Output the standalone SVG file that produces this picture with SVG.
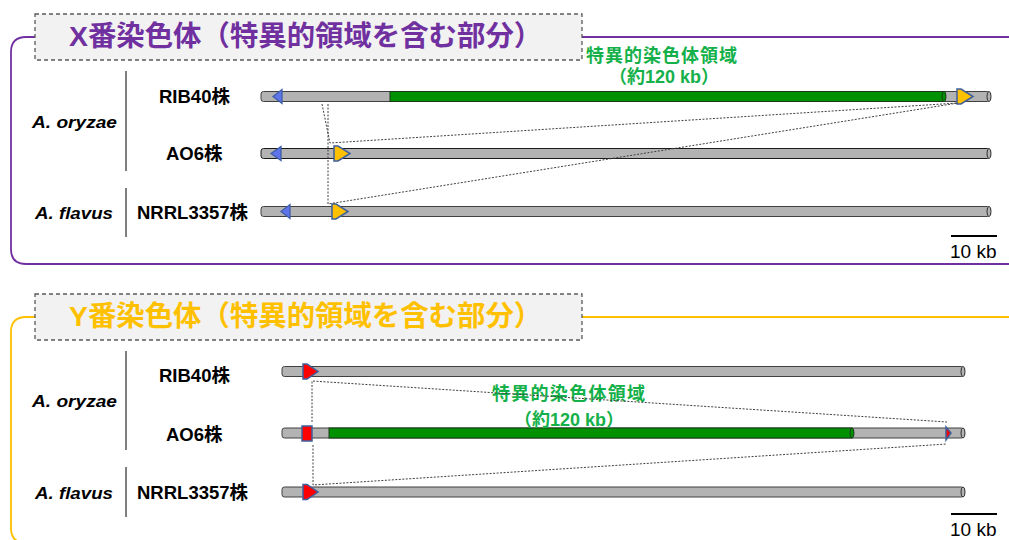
<svg xmlns="http://www.w3.org/2000/svg" width="1009" height="540" viewBox="0 0 1009 540">
<style>
.title{font-family:"Liberation Sans","Noto Sans CJK JP",sans-serif;font-weight:bold;font-size:28.4px}
.tbox{fill:#f2f2f2;stroke:#595959;stroke-width:1.3;stroke-dasharray:4 3}
.lbl{font-family:"Liberation Sans","Noto Sans CJK JP",sans-serif;font-weight:bold;font-size:18.5px;fill:#000}
.sp{font-family:"Liberation Sans",sans-serif;font-weight:bold;font-style:italic;font-size:17px;fill:#000}
.grn{font-family:"Liberation Sans","Noto Sans CJK JP",sans-serif;font-weight:bold;font-size:18px;fill:#14b04a}
.sep{stroke:#7f7f7f;stroke-width:2}
.bar{fill:#b3b3b3;stroke:#404040;stroke-width:1}
.cap{fill:#b3b3b3;stroke:#303030;stroke-width:1}
.green{fill:#009100;stroke:#1a3a1a;stroke-width:1}
.gcap{fill:#009100;stroke:#1a3a1a;stroke-width:1}
.blue{fill:#5f74ea;stroke:#3f5fa8;stroke-width:1.3}
.yel{fill:#ffc000;stroke:#3f5f9c;stroke-width:1.5}
.red{fill:#ff0000;stroke:#3f5f9c;stroke-width:1.5}
.dot{fill:none;stroke:#404040;stroke-width:1;stroke-dasharray:2 1.5}
.scale{stroke:#000;stroke-width:2}
.stxt{font-family:"Liberation Sans",sans-serif;font-size:19px;fill:#000}
</style>

<!-- X chromosome panel -->
<g id="frameX" fill="none" stroke="#7030a0" stroke-width="1.8">
  <path d="M35 37 H26 Q11 37 11 52 V249 Q11 264 26 264 H1009"/>
  <path d="M582 37 H1009"/>
</g>
<g id="titleX">
  <rect class="tbox" x="35" y="14" width="547" height="46"/>
  <text class="title" x="69" y="46" fill="#7030a0">X番染色体（特異的領域を含む部分）</text>
</g>
<g id="labelsX">
  <line class="sep" x1="126" y1="71" x2="126" y2="171"/>
  <line class="sep" x1="126" y1="188" x2="126" y2="237"/>
  <text class="sp" x="32" y="128" textLength="85" lengthAdjust="spacingAndGlyphs">A. oryzae</text>
  <text class="sp" x="35" y="219" textLength="78" lengthAdjust="spacingAndGlyphs">A. flavus</text>
</g>

<g id="X_RIB40">
  <text class="lbl" x="159" y="103">RIB40株</text>
  <rect class="bar" x="261" y="91.5" width="729" height="10" rx="2.5"/>
  <ellipse class="cap" cx="989" cy="96.5" rx="2" ry="5"/>
  <rect class="green" x="390" y="91.5" width="554" height="10"/>
  <ellipse class="gcap" cx="944" cy="96.5" rx="2" ry="5"/>
  <polygon class="blue" points="273,96.5 282,89.5 282,103.5"/>
  <polygon class="yel" points="957,89 961,89 973,96.5 961,104 957,104"/>
</g>
<g id="X_AO6">
  <text class="lbl" x="166" y="160">AO6株</text>
  <rect class="bar" x="261" y="148.5" width="729" height="10" rx="2.5" style="stroke:#1a1a1a"/>
  <ellipse class="cap" cx="989" cy="153.5" rx="2" ry="5"/>
  <polygon class="blue" points="271,153.5 281,146.5 281,160.5"/>
  <polygon class="yel" points="334,146 338,146 350,153.5 338,161 334,161"/>
</g>
<g id="X_NRRL3357">
  <text class="lbl" x="137" y="219">NRRL3357株</text>
  <rect class="bar" x="261" y="206.5" width="729" height="10" rx="2.5"/>
  <ellipse class="cap" cx="989" cy="211.5" rx="2" ry="5"/>
  <polygon class="blue" points="281,211.5 290,204.5 290,218.5"/>
  <polygon class="yel" points="332,204 336,204 348,211.5 336,219 332,219"/>
</g>
<g id="X_region_label">
  <text class="grn" x="586" y="62" textLength="151" lengthAdjust="spacing">特異的染色体領域</text>
  <text class="grn" x="664" y="83" text-anchor="middle">（約120 kb）</text>
</g>
<g id="X_scale">
  <line class="scale" x1="951" y1="236" x2="997" y2="236"/>
  <text class="stxt" x="950" y="258">10 kb</text>
</g>

<!-- Y chromosome panel -->
<g id="frameY" fill="none" stroke="#ffc000" stroke-width="1.8">
  <path d="M35 317 H26 Q11 317 11 332 V528 Q11 543 26 543 H1009"/>
  <path d="M582 317 H1009"/>
</g>
<g id="titleY">
  <rect class="tbox" x="35" y="294" width="547" height="46"/>
  <text class="title" x="69" y="326" fill="#ffc000">Y番染色体（特異的領域を含む部分）</text>
</g>
<g id="labelsY">
  <line class="sep" x1="126" y1="351" x2="126" y2="450"/>
  <line class="sep" x1="126" y1="467" x2="126" y2="517"/>
  <text class="sp" x="32" y="407" textLength="85" lengthAdjust="spacingAndGlyphs">A. oryzae</text>
  <text class="sp" x="35" y="499" textLength="78" lengthAdjust="spacingAndGlyphs">A. flavus</text>
</g>

<g id="Y_RIB40">
  <text class="lbl" x="159" y="382">RIB40株</text>
  <rect class="bar" x="282" y="366.5" width="682" height="10" rx="2.5"/>
  <ellipse class="cap" cx="963" cy="371.5" rx="2" ry="5"/>
  <polygon class="red" points="303,364 307,364 318,371.5 307,379 303,379"/>
</g>
<g id="Y_AO6">
  <text class="lbl" x="166" y="441">AO6株</text>
  <rect class="bar" x="282" y="428" width="682" height="10" rx="2.5"/>
  <ellipse class="cap" cx="963" cy="433" rx="2" ry="5"/>
  <rect class="green" x="329" y="428" width="523" height="10"/>
  <ellipse class="gcap" cx="852" cy="433" rx="2" ry="5"/>
  <rect class="red" x="302" y="426" width="10" height="15"/>
  <polygon class="red" points="946,427 951,433 946,440"/>
</g>
<g id="Y_NRRL3357">
  <text class="lbl" x="137" y="499">NRRL3357株</text>
  <rect class="bar" x="282" y="487" width="682" height="10" rx="2.5"/>
  <ellipse class="cap" cx="963" cy="492" rx="2" ry="5"/>
  <polygon class="red" points="303,484.5 307,484.5 318,492 307,499.5 303,499.5"/>
</g>
<g id="Y_region_label">
  <text class="grn" x="492" y="400" textLength="153" lengthAdjust="spacing">特異的染色体領域</text>
  <text class="grn" x="569" y="426" text-anchor="middle">（約120 kb）</text>
</g>
<g id="Y_scale">
  <line class="scale" x1="951" y1="514" x2="997" y2="514"/>
  <text class="stxt" x="950" y="536">10 kb</text>
</g>

<g id="connectors">
  <polyline class="dot" points="322,104 330,143 958,103"/>
  <polyline class="dot" points="328,104 328,204 958,103"/>
  <polyline class="dot" points="312,422 312,381 947,422"/>
  <polyline class="dot" points="313,445 313,485 947,444"/>
</g>
</svg>
